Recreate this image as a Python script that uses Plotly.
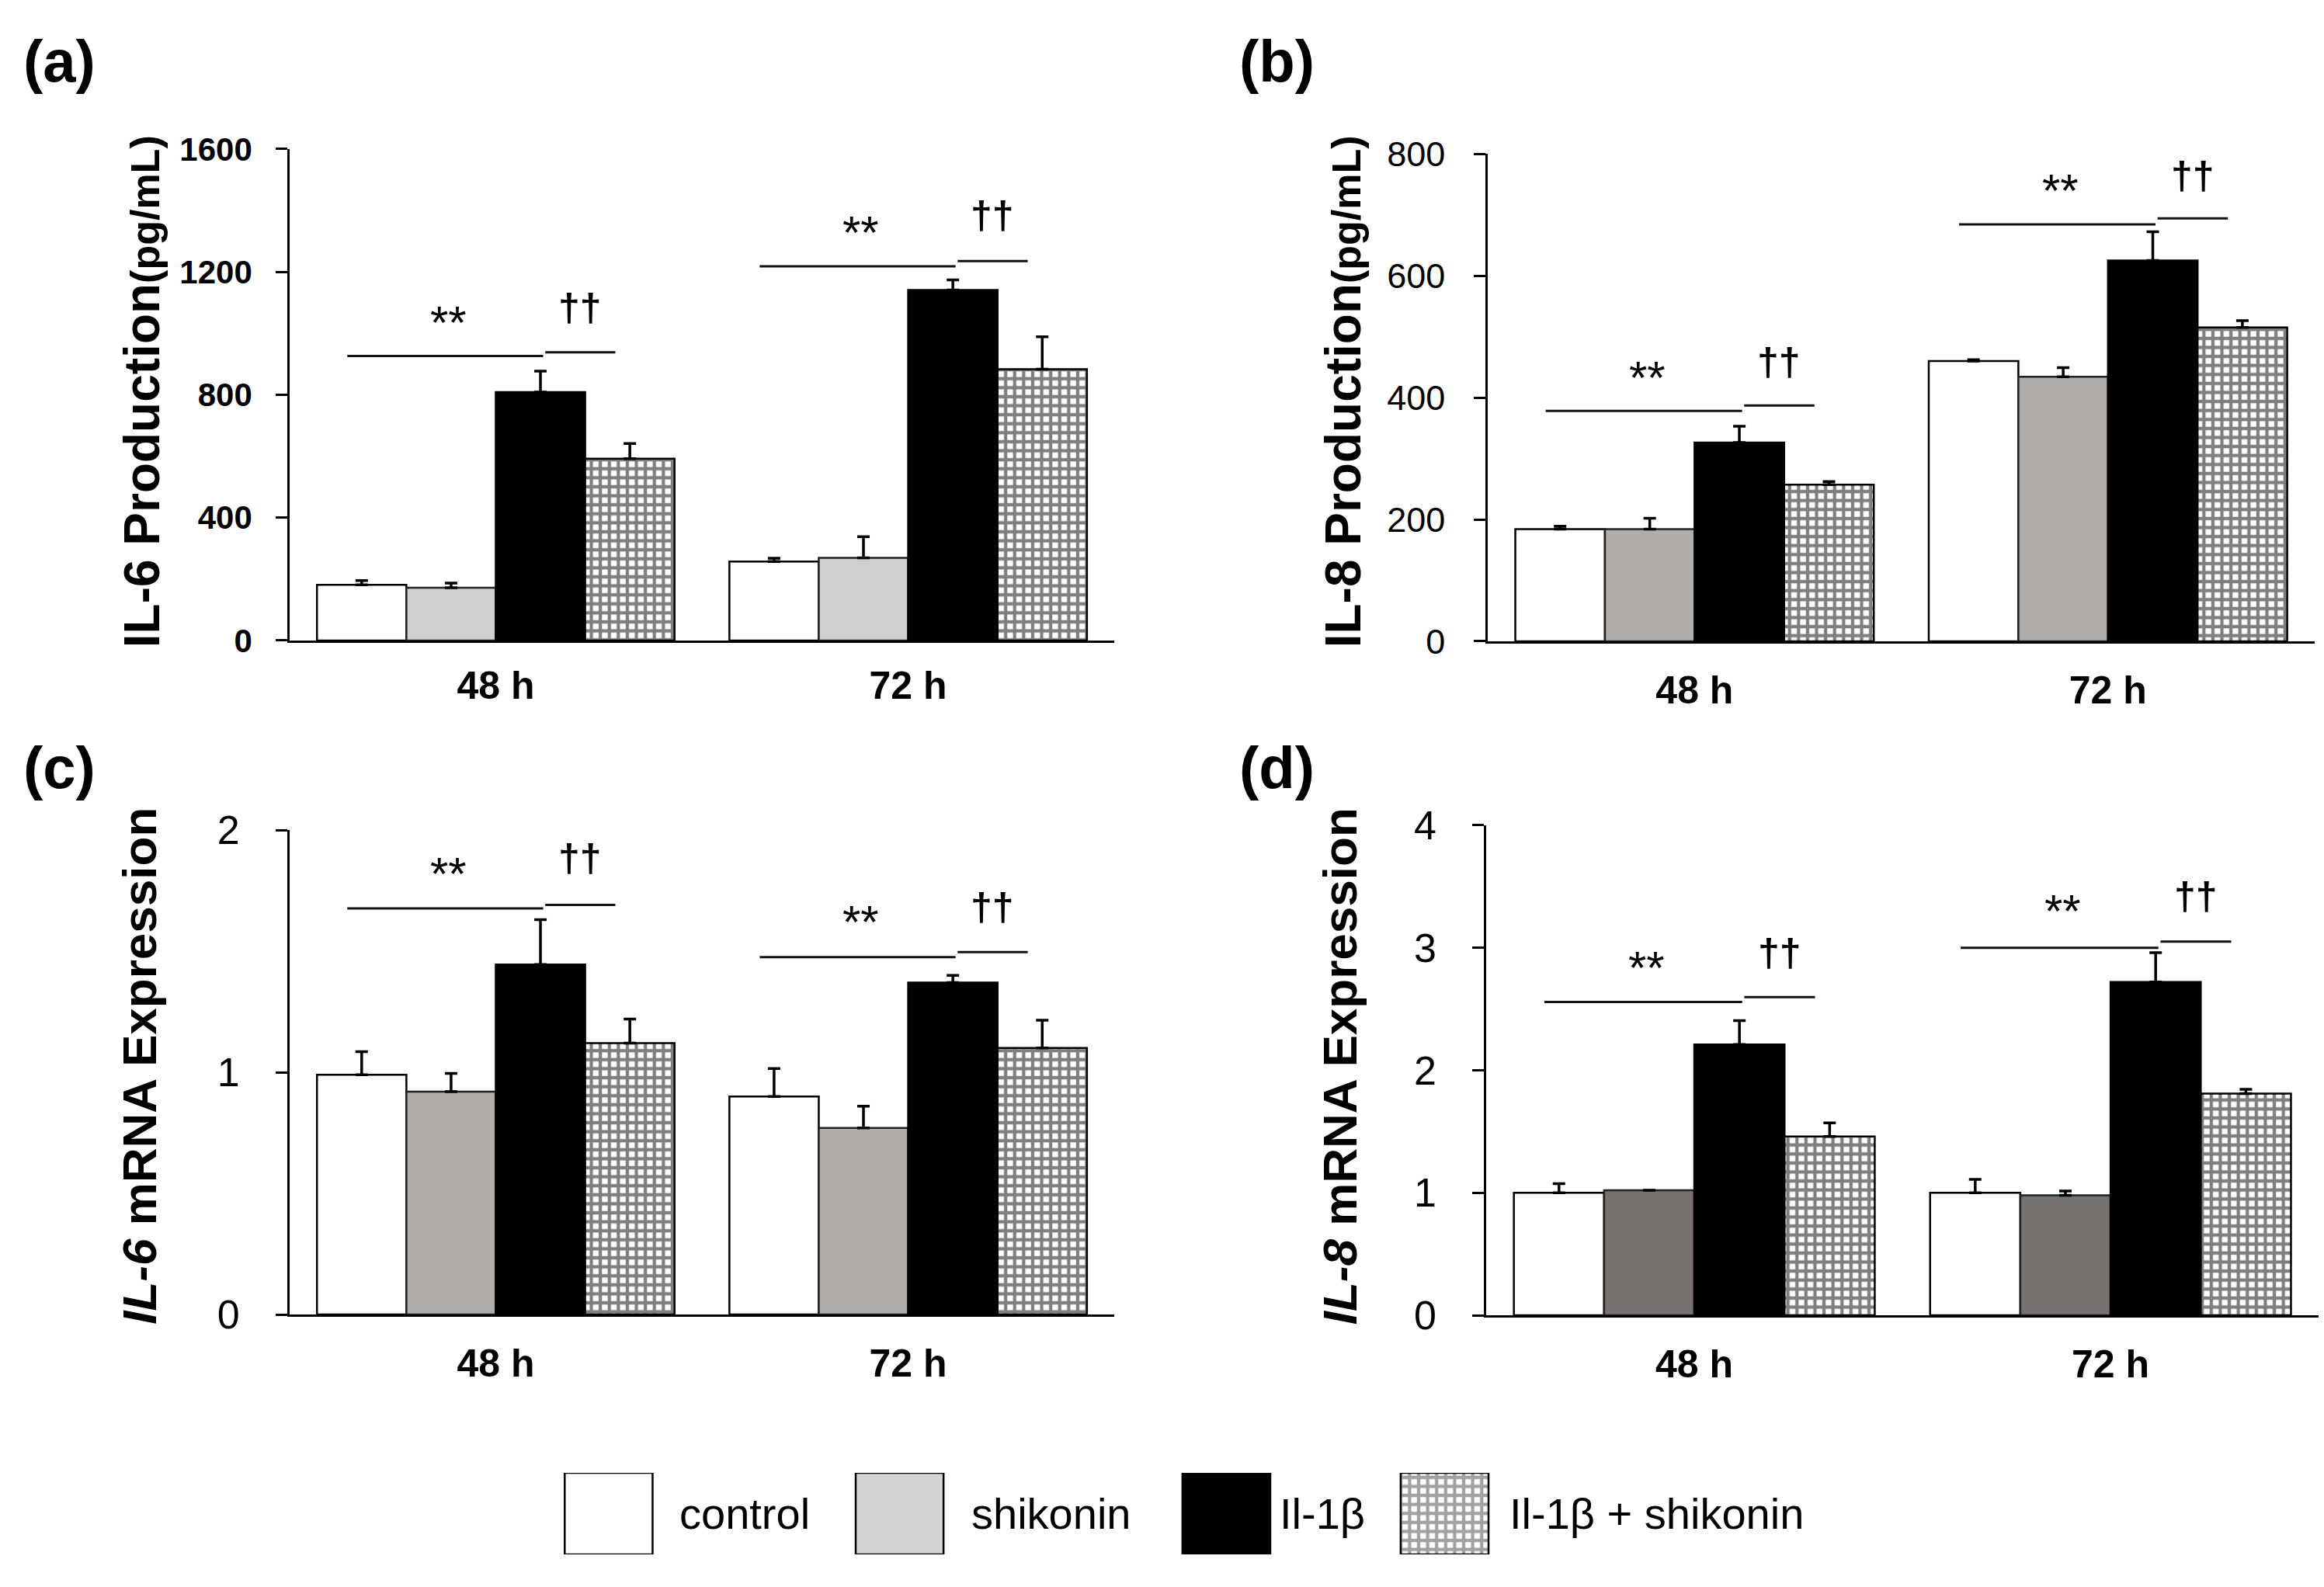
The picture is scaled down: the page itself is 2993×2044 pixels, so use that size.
import plotly.graph_objects as go

# ---------------- data ----------------
CATEGORIES = ["48 h", "72 h"]
SERIES = ["control", "shikonin", "Il-1β", "Il-1β + shikonin"]

# (a) IL-6 production (pg/mL): per series, [48 h, 72 h]
A_MEAN = [[181, 257], [172, 269], [809, 1141], [592, 883]]
A_ERR = [[14, 11], [15, 69], [68, 33], [49, 106]]
# (b) IL-8 production (pg/mL)
B_MEAN = [[184, 460], [184, 434], [326, 625], [257, 515]]
B_ERR = [[5, 2], [18, 15], [27, 47], [5, 11]]
# (c) IL-6 mRNA expression
C_MEAN = [[0.99, 0.90], [0.92, 0.77], [1.445, 1.37], [1.12, 1.10]]
C_ERR = [[0.095, 0.115], [0.075, 0.09], [0.185, 0.03], [0.10, 0.115]]
# (d) IL-8 mRNA expression
D_MEAN = [[1.0, 1.0], [1.02, 0.98], [2.21, 2.72], [1.46, 1.81]]
D_ERR = [[0.075, 0.11], [0.0, 0.035], [0.195, 0.24], [0.11, 0.035]]

# significance bracket heights (data units), per group [48 h, 72 h]
A_STAR_LINE = [926, 1218]
A_DAG_LINE = [938, 1235]
A_STAR_TXT = [1054, 1349]
A_DAG_TXT = [1085, 1385]
B_STAR_LINE = [378, 684]
B_DAG_LINE = [387, 694]
B_STAR_TXT = [443, 750]
B_DAG_TXT = [458, 764]
C_STAR_LINE = [1.676, 1.475]
C_DAG_LINE = [1.691, 1.496]
C_STAR_TXT = [1.846, 1.645]
C_DAG_TXT = [1.885, 1.682]
D_STAR_LINE = [2.558, 3.0]
D_DAG_LINE = [2.597, 3.05]
D_STAR_TXT = [2.89, 3.35]
D_DAG_TXT = [2.96, 3.42]

Y_MAX = [1600, 800, 2, 4]
Y_DTICK = [400, 200, 1, 1]

# ---------------- styles ----------------
FONT = "Liberation Sans, Arial, sans-serif"
SHIKONIN_COLORS = ["#d0cfcf", "#b1adab", "#b1adab", "#777170"]
LEGEND_SHIKONIN = "#d4d4d4"
GRID = dict(shape="+", fgcolor="black", bgcolor="white", size=11.6, solidity=0.6)

panels = [
    dict(lab="(a)", xa="x", ya="y", mean=A_MEAN, err=A_ERR,
         sl=A_STAR_LINE, dl=A_DAG_LINE, st=A_STAR_TXT, dt=A_DAG_TXT,
         xdom=[0.1246, 0.4795], ydom=[0.5964, 0.9061],
         title="<b>IL-6 Production<span style='font-size:52px'>(pg/mL)</span></b>",
         tx=0.0612, ty=0.7534, lx=0.0257, ly=0.9618,
         tickfont=dict(family=FONT, size=42, color="black", weight="bold"), stand=22,
         catstand=12),
    dict(lab="(b)", xa="x2", ya="y2", mean=B_MEAN, err=B_ERR,
         sl=B_STAR_LINE, dl=B_DAG_LINE, st=B_STAR_TXT, dt=B_DAG_TXT,
         xdom=[0.6402, 0.996], ydom=[0.5959, 0.9031],
         title="<b>IL-8 Production<span style='font-size:52px'>(pg/mL)</span></b>",
         tx=0.5781, ty=0.7534, lx=0.5495, ly=0.9618,
         tickfont=dict(family=FONT, size=45, color="black"), stand=28,
         catstand=17),
    dict(lab="(c)", xa="x3", ya="y3", mean=C_MEAN, err=C_ERR,
         sl=C_STAR_LINE, dl=C_DAG_LINE, st=C_STAR_TXT, dt=C_DAG_TXT,
         xdom=[0.1246, 0.4795], ydom=[0.1717, 0.477],
         title="<b><i>IL-6</i> mRNA Expression</b>",
         tx=0.0601, ty=0.3283, lx=0.0257, ly=0.5162,
         tickfont=dict(family=FONT, size=52, color="black"), stand=36,
         catstand=17),
    dict(lab="(d)", xa="x4", ya="y4", mean=D_MEAN, err=D_ERR,
         sl=D_STAR_LINE, dl=D_DAG_LINE, st=D_STAR_TXT, dt=D_DAG_TXT,
         xdom=[0.6395, 0.9977], ydom=[0.1712, 0.480],
         title="<b><i>IL-8</i> mRNA Expression</b>",
         tx=0.5768, ty=0.3283, lx=0.5495, ly=0.5162,
         tickfont=dict(family=FONT, size=52, color="black"), stand=36,
         catstand=17),
]

fig = go.Figure()
shapes = []
annotations = []
layout = {}

for p_i, p in enumerate(panels):
    for s_i, name in enumerate(SERIES):
        if s_i == 0:
            marker = dict(color="white", line=dict(color="black", width=2.5))
        elif s_i == 1:
            marker = dict(color=SHIKONIN_COLORS[p_i], line=dict(color="#222222", width=2.5))
        elif s_i == 2:
            marker = dict(color="black", line=dict(color="black", width=2.5))
        else:
            marker = dict(color="white", line=dict(color="black", width=2.5), pattern=GRID)
        fig.add_trace(go.Bar(
            x=CATEGORIES, y=p["mean"][s_i], name=name, marker=marker,
            xaxis=p["xa"], yaxis=p["ya"], showlegend=False,
            error_y=dict(type="data", array=p["err"][s_i],
                         arrayminus=[0] * len(CATEGORIES), symmetric=False,
                         color="black", thickness=3.5, width=8),
        ))
    xk = "xaxis" + p["xa"][1:]
    yk = "yaxis" + p["ya"][1:]
    layout[xk] = dict(domain=p["xdom"], anchor=p["ya"], type="category",
                      range=[-0.5, 1.5], showline=True, linecolor="black",
                      linewidth=2.5, ticks="", showgrid=False, zeroline=False,
                      automargin=False,
                      tickfont=dict(family=FONT, size=50, color="black", weight="bold"),
                      ticklabelstandoff=p["catstand"])
    layout[yk] = dict(domain=p["ydom"], anchor=p["xa"], range=[0, Y_MAX[p_i]],
                      dtick=Y_DTICK[p_i], tick0=0, showline=True, linecolor="black",
                      linewidth=2.5, ticks="outside", ticklen=15, tickwidth=2.5,
                      tickcolor="black", showgrid=False, zeroline=False,
                      automargin=False,
                      tickfont=p["tickfont"], ticklabelstandoff=p["stand"])

    # significance brackets
    for g in range(len(CATEGORIES)):
        shapes.append(dict(type="line", xref=p["xa"], yref=p["ya"],
                           x0=g - 0.36, x1=g + 0.115, y0=p["sl"][g], y1=p["sl"][g],
                           line=dict(color="#111111", width=3)))
        shapes.append(dict(type="line", xref=p["xa"], yref=p["ya"],
                           x0=g + 0.12, x1=g + 0.29, y0=p["dl"][g], y1=p["dl"][g],
                           line=dict(color="#111111", width=3)))
        annotations.append(dict(xref=p["xa"], yref=p["ya"], x=g - 0.115, y=p["st"][g],
                                text="**", showarrow=False, yanchor="middle", yshift=-8,
                                font=dict(family=FONT, size=60, color="black")))
        annotations.append(dict(xref=p["xa"], yref=p["ya"], x=g + 0.205, y=p["dt"][g],
                                text="††", showarrow=False, yanchor="middle",
                                font=dict(family=FONT, size=50, color="black", weight="bold")))

    # axis title
    annotations.append(dict(xref="paper", yref="paper", x=p["tx"], y=p["ty"],
                            text=p["title"], textangle=-90, showarrow=False,
                            xanchor="center", yanchor="middle",
                            font=dict(family=FONT, size=64 if p_i < 2 else 62, color="black")))
    # panel label
    annotations.append(dict(xref="paper", yref="paper", x=p["lx"], y=p["ly"],
                            text="<b>" + p["lab"] + "</b>", showarrow=False,
                            xanchor="center", yanchor="middle",
                            font=dict(family=FONT, size=76, color="black")))

# ---------------- legend (custom swatches on a hidden paper-like axis) ----------------
LEG_SWATCH_X = [0.2619, 0.3871, 0.5277, 0.6216]
LEG_TEXT_X = [0.2917, 0.4173, 0.5500, 0.6488]
fig.add_trace(go.Bar(
    x=LEG_SWATCH_X, y=[1] * len(SERIES), width=[0.0378] * len(SERIES),
    xaxis="x5", yaxis="y5", showlegend=False, hoverinfo="skip",
    marker=dict(color=["white", LEGEND_SHIKONIN, "black", "white"],
                line=dict(color="black", width=2.5),
                pattern=dict(shape=["", "", "", "+"], fgcolor="black",
                             bgcolor=["white", LEGEND_SHIKONIN, "black", "white"],
                             size=GRID["size"], solidity=GRID["solidity"])),
))
layout["xaxis5"] = dict(domain=[0, 1], range=[0, 1], visible=False, anchor="y5")
layout["yaxis5"] = dict(domain=[0.0205, 0.0719], range=[0, 1], visible=False, anchor="x5")
for tx, name in zip(LEG_TEXT_X, SERIES):
    annotations.append(dict(xref="paper", yref="paper", x=tx, y=0.046, text=name,
                            showarrow=False, xanchor="left", yanchor="middle",
                            font=dict(family=FONT, size=56, color="black")))

fig.update_layout(
    width=2993, height=2044, margin=dict(l=0, r=0, t=0, b=0, pad=0, autoexpand=False),
    paper_bgcolor="white", plot_bgcolor="white",
    barmode="group", bargap=0.133, bargroupgap=0,
    shapes=shapes, annotations=annotations,
    font=dict(family=FONT, color="black"),
    **layout,
)

fig.write_html("out.html", config={"displayModeBar": False},
               post_script="document.body.style.margin='0px';")
